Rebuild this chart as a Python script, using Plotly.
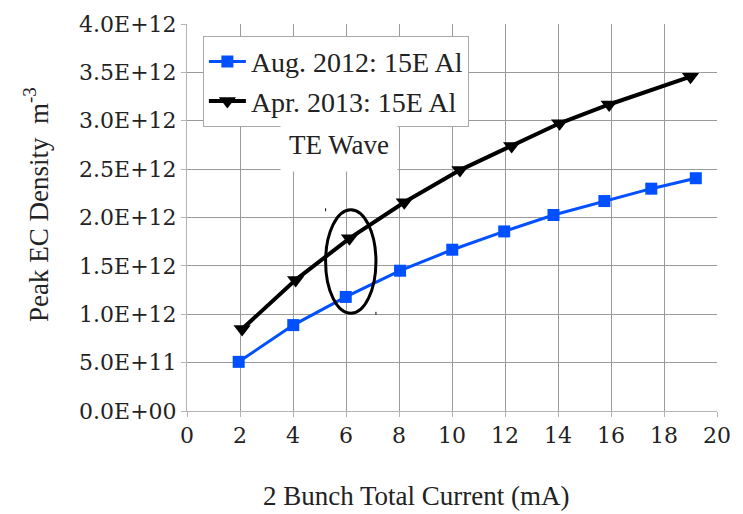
import plotly.graph_objects as go

# Aug. 2012 measurement (15E Al chamber)
aug_current = [1.95, 4.01, 5.99, 8.04, 10.01, 11.97, 13.83, 15.75, 17.52, 19.2]
aug_density = [0.508e12, 0.888e12, 1.179e12, 1.45e12, 1.667e12, 1.856e12,
               2.026e12, 2.17e12, 2.298e12, 2.406e12]

# Apr. 2013 measurement (15E Al chamber)
apr_current = [2.08, 4.1, 6.13, 8.2, 10.3, 12.25, 14.06, 15.93, 19.0]
apr_density = [0.847e12, 1.355e12, 1.785e12, 2.158e12, 2.49e12, 2.74e12,
               2.974e12, 3.168e12, 3.456e12]

x_ticks = [0, 2, 4, 6, 8, 10, 12, 14, 16, 18, 20]
y_ticks = [0, 0.5e12, 1.0e12, 1.5e12, 2.0e12, 2.5e12, 3.0e12, 3.5e12, 4.0e12]
y_tick_labels = ["0.0E+00", "5.0E+11", "1.0E+12", "1.5E+12", "2.0E+12",
                 "2.5E+12", "3.0E+12", "3.5E+12", "4.0E+12"]

# highlighted region around the 6 mA points
ellipse_x = [5.23, 7.13]
ellipse_y = [1.01e12, 2.08e12]

SERIF = "Liberation Serif"
TICKFONT = "DejaVu Serif"
GRID = "#9a9a9a"
AXIS = "#b4b4b4"
TEXT = "#222222"

# plot-area geometry in pixels
L, R, T, B = 187, 22, 18, 103
W, H = 743, 514
PW, PH = W - L - R, H - T - B


def px_x(px):
    return (px - L) / PW


def px_y(py):
    return (H - B - py) / PH


fig = go.Figure()
fig.add_trace(go.Scatter(
    x=aug_current, y=aug_density, mode="lines+markers",
    name="Aug. 2012: 15E Al",
    line=dict(color="#0050FF", width=3),
    marker=dict(symbol="square", size=12, color="#0050FF"),
))
fig.add_trace(go.Scatter(
    x=apr_current, y=apr_density, mode="lines+markers",
    name="Apr. 2013: 15E Al",
    line=dict(color="#000000", width=4),
    marker=dict(symbol="triangle-down", size=15, color="#000000"),
))

fig.add_shape(type="circle", xref="x", yref="y",
              x0=ellipse_x[0], x1=ellipse_x[1], y0=ellipse_y[0], y1=ellipse_y[1],
              line=dict(color="black", width=3))
# small selection handles at the ellipse bounding-box corners
for cx, cy in [(ellipse_x[0], ellipse_y[1]), (ellipse_x[1], ellipse_y[0])]:
    fig.add_shape(type="line", xref="x", yref="y",
                  x0=cx, x1=cx, y0=cy - 0.015e12, y1=cy + 0.015e12,
                  line=dict(color="black", width=1))

fig.add_annotation(
    text="TE Wave", xref="paper", yref="paper",
    x=px_x(340), y=px_y(141), xanchor="center", yanchor="middle",
    showarrow=False,
    font=dict(family=SERIF, size=27, color=TEXT),
    bgcolor="white", width=114, height=50,
)
fig.add_annotation(
    text="2 Bunch Total Current (mA)", xref="paper", yref="paper",
    x=px_x(418.6), y=px_y(497), xanchor="center", yanchor="middle",
    showarrow=False,
    font=dict(family=SERIF, size=27, color=TEXT),
)
fig.add_annotation(
    text="Peak EC Density\u00a0 m<sup>-3</sup>", xref="paper", yref="paper",
    x=px_x(35), y=px_y(201.7), xanchor="center", yanchor="middle",
    showarrow=False, textangle=-90,
    font=dict(family=SERIF, size=27, color=TEXT),
)

fig.update_layout(
    width=W, height=H,
    margin=dict(l=L, r=R, t=T, b=B),
    paper_bgcolor="white", plot_bgcolor="white",
    showlegend=True,
    legend=dict(
        x=px_x(203), y=px_y(30), xanchor="left", yanchor="top",
        bgcolor="white", bordercolor="#a8a8a8", borderwidth=1,
        font=dict(family=SERIF, size=28, color=TEXT),
        tracegroupgap=0, itemwidth=37,
    ),
)
fig.update_xaxes(
    range=[0, 20], tickvals=x_ticks, ticktext=[str(v) for v in x_ticks],
    showgrid=True, gridcolor=GRID, gridwidth=1, zeroline=False,
    showline=True, linecolor=AXIS, linewidth=1,
    ticks="outside", ticklen=5, tickcolor=AXIS,
    tickfont=dict(family=TICKFONT, size=22, color=TEXT),
)
fig.update_yaxes(
    range=[0, 4.0e12], tickvals=y_ticks, ticktext=y_tick_labels,
    showgrid=True, gridcolor=GRID, gridwidth=1, zeroline=False,
    showline=True, linecolor=AXIS, linewidth=1,
    ticks="outside", ticklen=5, tickcolor=AXIS,
    tickfont=dict(family=TICKFONT, size=22, color=TEXT),
)

fig.write_html("out.html")
